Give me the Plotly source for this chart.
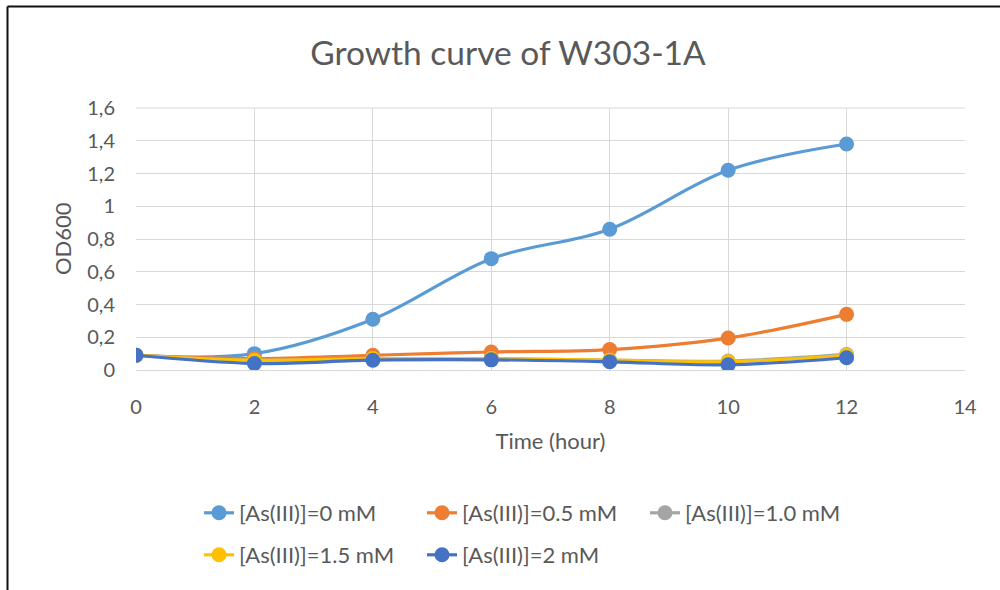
import plotly.graph_objects as go

# Sampling times (hours) and OD600 readings for each arsenite concentration
time_h = [0, 2, 4, 6, 8, 10, 12]
od_0mM = [0.09, 0.10, 0.31, 0.68, 0.86, 1.22, 1.38]
od_05mM = [0.09, 0.07, 0.09, 0.11, 0.125, 0.195, 0.34]
od_10mM = [0.09, 0.06, 0.07, 0.07, 0.06, 0.055, 0.095]
od_15mM = [0.09, 0.06, 0.07, 0.07, 0.06, 0.05, 0.09]
od_2mM = [0.09, 0.04, 0.06, 0.062, 0.05, 0.032, 0.075]

series_names = ["[As(III)]=0 mM", "[As(III)]=0.5 mM", "[As(III)]=1.0 mM",
                "[As(III)]=1.5 mM", "[As(III)]=2 mM"]
series_values = [od_0mM, od_05mM, od_10mM, od_15mM, od_2mM]
series_colors = ["#5B9BD5", "#ED7D31", "#A5A5A5", "#FFC000", "#4472C4"]
series_legend = ["legend", "legend", "legend", "legend2", "legend2"]

x_ticks = [0, 2, 4, 6, 8, 10, 12, 14]
y_ticks = [0, 0.2, 0.4, 0.6, 0.8, 1.0, 1.2, 1.4, 1.6]
y_tick_text = ["0", "0,2", "0,4", "0,6", "0,8", "1", "1,2", "1,4", "1,6"]

FONT = "Lato"
TEXT = "#595959"
GRID = "#D9D9D9"

fig = go.Figure()
for name, vals, col, leg in zip(series_names, series_values, series_colors, series_legend):
    fig.add_trace(go.Scatter(
        x=time_h, y=vals, name=name, mode="lines+markers",
        line=dict(color=col, width=3.2, shape="spline", smoothing=1),
        marker=dict(color=col, size=15),
        legend=leg,
    ))

# plot area in pixels: x 136..965, y 108..370
L, R, T, B = 136, 35, 108, 220
W, H = 1000, 590
pw, ph = W - L - R, H - T - B


def px(xp):
    return (xp - L) / pw


def py(yp):
    return (H - B - yp) / ph


legend_common = dict(
    orientation="h", xanchor="left", yanchor="middle",
    font=dict(family=FONT, size=22, color=TEXT),
    bgcolor="rgba(0,0,0,0)", entrywidth=178, entrywidthmode="pixels",
)

fig.update_layout(
    width=W, height=H,
    margin=dict(l=L, r=R, t=T, b=B),
    paper_bgcolor="white", plot_bgcolor="white",
    title=dict(text="Growth curve of W303-1A", x=0.508, xref="container",
               xanchor="center", y=1 - 53 / H, yanchor="middle",
               font=dict(family=FONT, size=33.5, color=TEXT)),
    xaxis=dict(
        range=[0, 14], tickvals=x_ticks, ticks="", showgrid=True, gridcolor=GRID,
        gridwidth=1, zeroline=False, showline=True, linecolor=GRID, linewidth=1,
        tickfont=dict(family=FONT, size=20, color=TEXT), ticklabelstandoff=19,
        title=dict(text="Time (hour)", font=dict(family=FONT, size=22, color=TEXT),
                   standoff=16),
    ),
    yaxis=dict(
        range=[0, 1.6], tickvals=y_ticks, ticktext=y_tick_text, ticks="",
        showgrid=True, gridcolor=GRID, gridwidth=1, zeroline=False, showline=False,
        tickfont=dict(family=FONT, size=20, color=TEXT), ticklabelstandoff=20,
    ),
    legend=dict(x=px(199), y=py(513), **legend_common),
    legend2=dict(x=px(199), y=py(555), **legend_common),
    showlegend=True,
)

# y-axis title placed to the left of the tick labels
fig.add_annotation(text="OD600", xref="paper", yref="paper", x=px(62), y=0.5,
                   xanchor="center", yanchor="middle", textangle=-90, showarrow=False,
                   font=dict(family=FONT, size=22, color=TEXT))

# top grid line at 1.6 closes the plot frame
fig.add_shape(type="line", xref="paper", yref="paper", x0=0, x1=1, y0=1, y1=1,
              line=dict(color=GRID, width=1))

# outer frame edges along the top and left of the image
fig.add_shape(type="line", xref="paper", yref="paper",
              x0=px(7.5), x1=px(1000), y0=py(6.5), y1=py(6.5),
              line=dict(color="#111111", width=2))
fig.add_shape(type="line", xref="paper", yref="paper",
              x0=px(7.5), x1=px(7.5), y0=py(6.5), y1=py(590),
              line=dict(color="#111111", width=2))

fig.write_html("out.html")
